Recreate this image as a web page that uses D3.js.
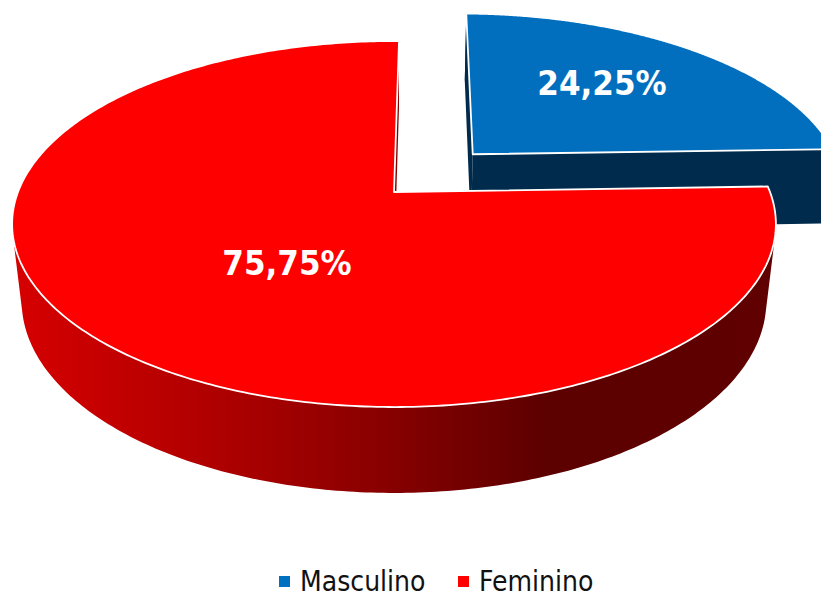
<!DOCTYPE html>
<html><head><meta charset="utf-8">
<script src="https://cdn.jsdelivr.net/npm/d3@7/dist/d3.min.js"></script>
<style>html,body{margin:0;padding:0;background:#fff}svg{display:block}</style>
</head><body><svg id="c" width="821" height="592"></svg>
<script>
const categories = ["Masculino", "Feminino"];
const values = [24.25, 75.75];
const labels = ["24,25%", "75,75%"];
const topColors = ["#026fbe", "#ff0000"];
const legendColors = ["#0070c0", "#ff0000"];
const explode = [0.31, 0];

const svg = d3.select("#c");
// Perspective camera for a unit-radius pie
const cam = {x0: 394, y0: 192, a: 376, b: 177.4, d: 78.4, k: 0.175, m: 0.025};
const project = (u, v, z) => {
  const w = 1 - cam.k * v + cam.m * z;
  return [cam.x0 + cam.a * u / w, cam.y0 + (cam.b * v + cam.d * z) / w];
};
const rot = 0.9 * Math.PI / 180;
const pie = d3.pie().sort(null).startAngle(rot).endAngle(2 * Math.PI + rot);
const arcs = pie(values).map((p, i) => {
  const mid = (p.startAngle + p.endAngle) / 2;
  return {...p, i, ox: explode[i] * Math.sin(mid), oy: -explode[i] * Math.cos(mid)};
});
const rim = (s, a, z) => project(s.ox + Math.sin(a), s.oy - Math.cos(a), z);
const centre = (s, z) => project(s.ox, s.oy, z);
const angles = s => d3.range(0, 361).map(i => s.startAngle + (s.endAngle - s.startAngle) * i / 360);
const line = d3.line();

const defs = svg.append("defs");
const grad = defs.append("linearGradient").attr("id", "redWall")
  .attr("gradientUnits", "userSpaceOnUse").attr("x1", 15).attr("x2", 775).attr("y1", 0).attr("y2", 0);
[[0, "#d60000"], [0.32, "#a60000"], [0.5, "#860000"], [0.7, "#5c0000"], [1, "#600000"]]
  .forEach(([o, c]) => grad.append("stop").attr("offset", o).attr("stop-color", c));
const wallFill = ["#002b4c", "url(#redWall)"];

arcs.forEach(s => {
  const as = angles(s);
  const g = svg.append("g");
  // radial walls
  [s.startAngle, s.endAngle].forEach(a => {
    g.append("path")
      .attr("d", line([centre(s, 0), rim(s, a, 0), rim(s, a, 1), centre(s, 1)]) + "Z")
      .attr("fill", wallFill[s.i]);
  });
  // outer wall: one path of small quads, each wound the same way so folds never cancel
  const quads = d3.pairs(as).map(([a, b]) => {
    const q = [rim(s, a, 0), rim(s, b, 0), rim(s, b, 1), rim(s, a, 1)];
    const area = d3.polygonArea(q);
    return line(area < 0 ? q.reverse() : q) + "Z";
  }).join("");
  g.append("path").attr("d", quads).attr("fill", wallFill[s.i]);
  // top face
  g.append("path")
    .attr("d", line([centre(s, 0)].concat(as.map(a => rim(s, a, 0)))) + "Z")
    .attr("fill", topColors[s.i])
    .attr("stroke", "#fff").attr("stroke-width", 1.8).attr("stroke-linejoin", "round");
});

const labelPos = [[602, 83], [287, 263]];
svg.selectAll("text.lab").data(labels).join("text").attr("class", "lab")
  .attr("x", (d, i) => labelPos[i][0]).attr("y", (d, i) => labelPos[i][1])
  .attr("text-anchor", "middle").attr("dominant-baseline", "central")
  .attr("font-family", "'DejaVu Sans'").attr("font-stretch", "condensed")
  .attr("font-weight", "bold").attr("font-size", 34.5)
  .attr("fill", "#fff").text(d => d);

const legendX = [279, 458];
const lg = svg.selectAll("g.leg").data(categories).join("g").attr("class", "leg")
  .attr("transform", (d, i) => `translate(${legendX[i]},0)`);
lg.append("rect").attr("y", 576).attr("width", 11).attr("height", 11).attr("fill", (d, i) => legendColors[i]);
lg.append("text").attr("x", 21).attr("y", 591)
  .attr("font-family", "'DejaVu Sans'").attr("font-stretch", "condensed")
  .attr("font-size", 28).attr("fill", "#111").text(d => d);
</script></body></html>
